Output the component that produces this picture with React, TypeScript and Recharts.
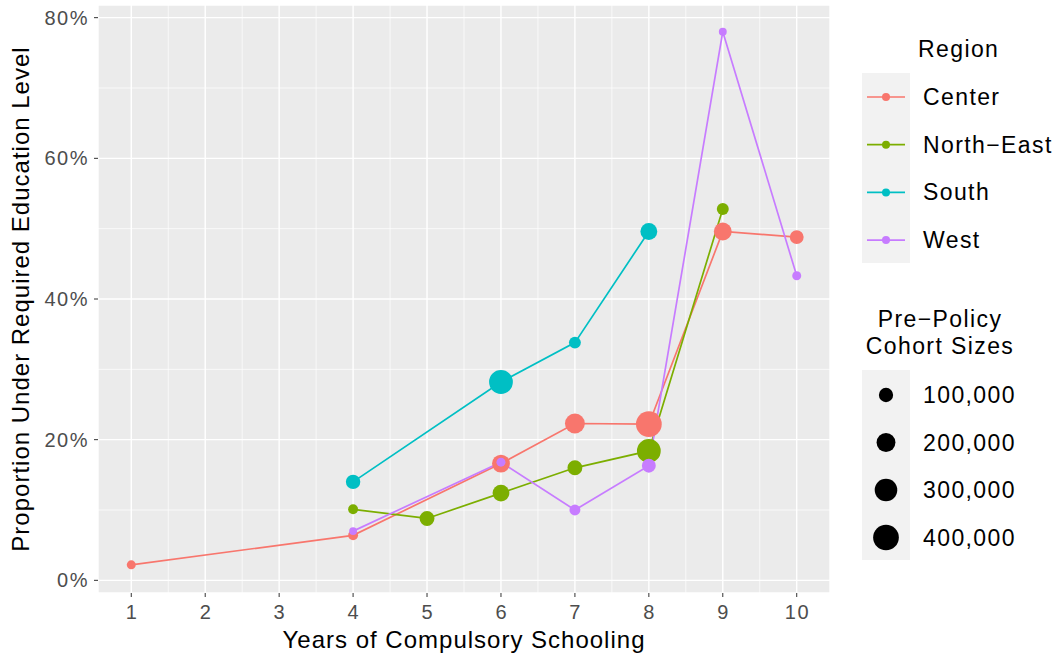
import {
  ComposedChart,
  Line,
  Scatter,
  XAxis,
  YAxis,
  ZAxis,
  CartesianGrid,
  ReferenceLine,
} from 'recharts'

const regions = ['Center', 'North\u2212East', 'South', 'West']
const colors = ['#F8766D', '#7CAE00', '#00BFC4', '#C77CFF']

// x = years of compulsory schooling, y = % under required level, n = pre-policy cohort size
const centerX = [1, 4, 6, 7, 8, 9, 10]
const centerY = [2.2, 6.4, 16.6, 22.3, 22.2, 49.6, 48.8]
const centerN = [20000, 32000, 180000, 230000, 410000, 180000, 95000]

const northEastX = [4, 5, 6, 7, 8, 9]
const northEastY = [10.1, 8.8, 12.4, 16.0, 18.4, 52.8]
const northEastN = [32000, 114000, 156000, 114000, 345000, 61000]

const southX = [4, 6, 7, 8]
const southY = [14.0, 28.2, 33.8, 49.6]
const southN = [106000, 345000, 61000, 156000]

const westX = [4, 6, 7, 8, 9, 10]
const westY = [7.0, 16.8, 10.0, 16.3, 78.0, 43.3]
const westN = [8000, 20000, 46000, 95000, 8000, 20000]

const xTicks = [1, 2, 3, 4, 5, 6, 7, 8, 9, 10]
const xMinor = [1.5, 2.5, 3.5, 4.5, 5.5, 6.5, 7.5, 8.5, 9.5]
const yTicks = [0, 20, 40, 60, 80]
const yMinor = [10, 30, 50, 70]

const sizeBreaks = [100000, 200000, 300000, 400000]
const sizeLabels = ['100,000', '200,000', '300,000', '400,000']

// same mapping as the ZAxis below: area linear in n
const Z_DOMAIN = [0, 400000]
const Z_RANGE = [40, 520]
const radiusFor = (n: number) => {
  const area = Z_RANGE[0] + ((n - Z_DOMAIN[0]) / (Z_DOMAIN[1] - Z_DOMAIN[0])) * (Z_RANGE[1] - Z_RANGE[0])
  return Math.sqrt(area / Math.PI)
}

const rows = (xs: number[], ys: number[], ns: number[]) =>
  xs.map((x, i) => ({ x, y: ys[i], n: ns[i] }))

const series = [
  rows(centerX, centerY, centerN),
  rows(northEastX, northEastY, northEastN),
  rows(southX, southY, southN),
  rows(westX, westY, westN),
]

const TICK_FONT = { fontSize: 20, letterSpacing: 1.5, fill: '#4D4D4D' }
const TITLE_FONT = { fontSize: 24, letterSpacing: 1, fill: '#000' }
const LEGEND_FONT = { fontSize: 23, letterSpacing: 1.4, fill: '#000' }

const XTick = ({ x, y, payload }: any) => (
  <text x={x + 0.75} y={y + 20} textAnchor="middle" {...TICK_FONT}>
    {payload.value}
  </text>
)

const YTick = ({ x, y, payload }: any) => (
  <text x={x - 3} y={y + 7} textAnchor="end" {...TICK_FONT}>
    {`${payload.value}%`}
  </text>
)

function Legends() {
  return (
    <svg
      width={1060}
      height={655}
      style={{ position: 'absolute', left: 0, top: 0, pointerEvents: 'none' }}
    >
      <text x={918} y={57} {...LEGEND_FONT}>Region</text>
      <rect x={862} y={73} width={48} height={190} fill="#F2F2F2" />
      {regions.map((r, i) => {
        const cy = 97 + i * 47.7
        return (
          <g key={r}>
            <line x1={867} x2={905} y1={cy} y2={cy} stroke={colors[i]} strokeWidth={1.7} />
            <circle cx={886} cy={cy} r={4} fill={colors[i]} />
            <text x={923} y={cy + 8} {...LEGEND_FONT}>{r}</text>
          </g>
        )
      })}

      <text x={940} y={327} textAnchor="middle" {...LEGEND_FONT}>Pre{'\u2212'}Policy</text>
      <text x={940} y={354} textAnchor="middle" {...LEGEND_FONT}>Cohort Sizes</text>
      <rect x={862} y={370} width={48} height={190} fill="#F2F2F2" />
      {sizeBreaks.map((n, i) => {
        const cy = 395 + i * 47.5
        return (
          <g key={n}>
            <circle cx={886} cy={cy} r={radiusFor(n)} fill="#000" />
            <text x={923} y={cy + 8} {...LEGEND_FONT}>{sizeLabels[i]}</text>
          </g>
        )
      })}
    </svg>
  )
}

export default function App() {
  return (
    <div
      style={{
        position: 'absolute',
        left: 0,
        top: 0,
        width: 1060,
        height: 655,
        background: '#fff',
        fontFamily: '"Liberation Sans", Arial, sans-serif',
      }}
    >
      <ComposedChart
        width={1060}
        height={655}
        margin={{ top: 5, right: 230, bottom: 0, left: 0 }}
      >
        <CartesianGrid fill="#EBEBEB" stroke="#FFFFFF" strokeWidth={1.4} />
        <XAxis
          type="number"
          dataKey="x"
          domain={[0.55, 10.45]}
          allowDataOverflow
          ticks={xTicks}
          interval={0}
          height={62}
          tickSize={4}
          axisLine={false}
          tickLine={{ stroke: '#333333' }}
          tick={<XTick />}
          label={{
            content: ({ viewBox }: any) => (
              <text
                x={viewBox.x + viewBox.width / 2}
                y={viewBox.y + 55}
                textAnchor="middle"
                {...TITLE_FONT}
              >
                Years of Compulsory Schooling
              </text>
            ),
          }}
        />
        <YAxis
          type="number"
          dataKey="y"
          domain={[-1.8, 81.8]}
          allowDataOverflow
          ticks={yTicks}
          interval={0}
          width={98}
          tickSize={4}
          axisLine={false}
          tickLine={{ stroke: '#333333' }}
          tick={<YTick />}
          label={{
            content: ({ viewBox }: any) => {
              const cx = 29
              const cy = viewBox.y + viewBox.height / 2
              return (
                <text
                  x={cx}
                  y={cy}
                  textAnchor="middle"
                  transform={`rotate(-90 ${cx} ${cy})`}
                  {...TITLE_FONT}
                >
                  Proportion Under Required Education Level
                </text>
              )
            },
          }}
        />
        <ZAxis type="number" dataKey="n" domain={Z_DOMAIN} range={Z_RANGE} />
        {xMinor.map((v) => (
          <ReferenceLine key={`xm${v}`} x={v} stroke="#FFFFFF" strokeWidth={0.7} />
        ))}
        {yMinor.map((v) => (
          <ReferenceLine key={`ym${v}`} y={v} stroke="#FFFFFF" strokeWidth={0.7} />
        ))}
        {series.map((d, i) => (
          <Line
            key={`l${i}`}
            data={d}
            dataKey="y"
            type="linear"
            stroke={colors[i]}
            strokeWidth={1.7}
            dot={false}
            activeDot={false}
            isAnimationActive={false}
          />
        ))}
        {series.map((d, i) => (
          <Scatter
            key={`s${i}`}
            data={d}
            dataKey="y"
            fill={colors[i]}
            isAnimationActive={false}
          />
        ))}
      </ComposedChart>
      <Legends />
    </div>
  )
}
